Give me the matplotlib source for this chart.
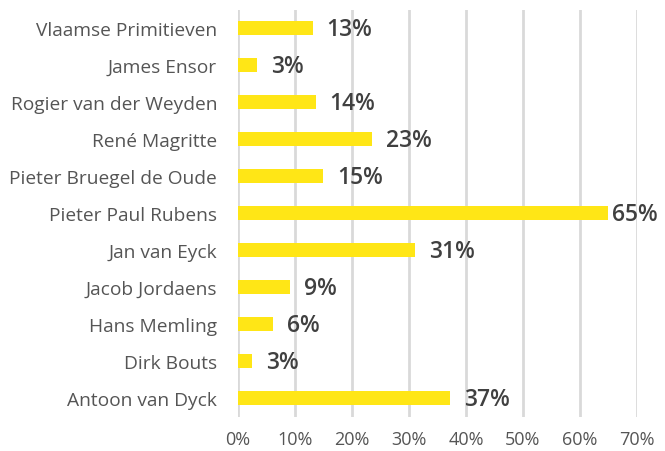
import matplotlib
matplotlib.use("Agg")
import matplotlib.pyplot as plt
from matplotlib.ticker import FuncFormatter

categories = ["Vlaamse Primitieven", "James Ensor", "Rogier van der Weyden",
              "René Magritte", "Pieter Bruegel de Oude", "Pieter Paul Rubens",
              "Jan van Eyck", "Jacob Jordaens", "Hans Memling", "Dirk Bouts",
              "Antoon van Dyck"]
values = [13.1, 3.3, 13.6, 23.5, 14.9, 64.9, 31.0, 9.2, 6.1, 2.5, 37.2]
value_labels = ["13%", "3%", "14%", "23%", "15%", "65%", "31%", "9%", "6%", "3%", "37%"]
x_ticks = [0, 10, 20, 30, 40, 50, 60, 70]

plt.rcParams['font.family'] = ['Open Sans', 'DejaVu Sans']

fig = plt.figure(figsize=(6.65, 4.52), dpi=100)
ax = fig.add_axes([238/665, 1 - 417.5/452, (637 - 238)/665, 407/452])

ypos = list(range(len(categories)))
ax.barh(ypos, values, height=0.36, color="#FFE616", zorder=3)
ax.set_ylim(len(categories) - 0.5, -0.5)
ax.set_xlim(0, 70)
ax.set_yticks(ypos)
ax.set_yticklabels(categories, fontsize=13.8, color="#555555")
ax.set_xticks(x_ticks)
ax.xaxis.set_major_formatter(FuncFormatter(lambda v, p: f"{v:.0f}%"))
ax.tick_params(axis="x", length=0, pad=10, labelsize=13, labelcolor="#555555")
ax.tick_params(axis="y", length=0, pad=15)
ax.grid(axis="x", color="#D9D9D9", linewidth=2, zorder=0)
for s in ax.spines.values():
    s.set_visible(False)

for y, v, lab in zip(ypos, values, value_labels):
    off = 3 if v > 60 else 10
    ax.annotate(lab, xy=(v, y), xytext=(off, -1), textcoords="offset points",
                ha="left", va="center", fontsize=16.5, fontweight="semibold",
                color="#404040", annotation_clip=False, zorder=4)

fig.savefig("out.png", dpi=100)
